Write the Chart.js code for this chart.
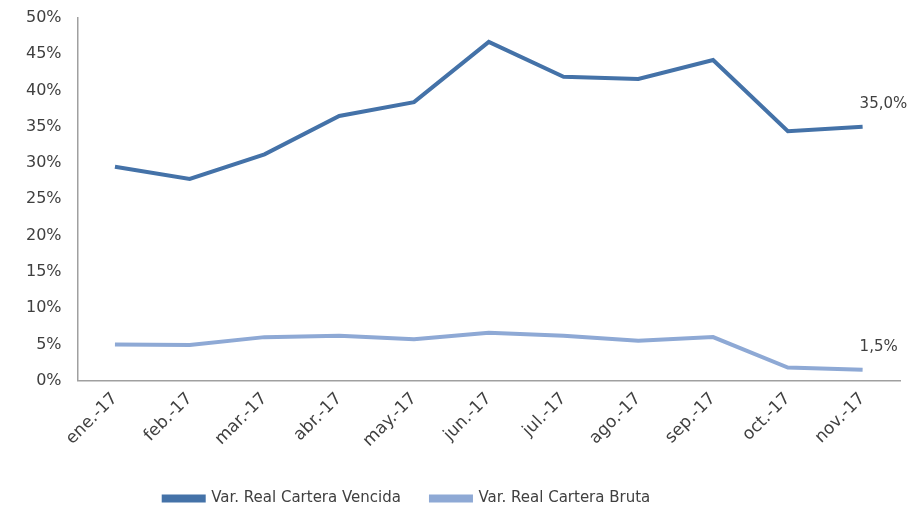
<!DOCTYPE html>
<html>
<head>
<meta charset="utf-8">
<script src="https://cdn.jsdelivr.net/npm/chart.js@4.4.1/dist/chart.umd.min.js"></script>
<style>
  html, body { margin: 0; padding: 0; background: #fff; }
  #wrap { width: 916px; height: 514px; }
</style>
</head>
<body>
<div id="wrap"><canvas id="myChart" width="916" height="514"></canvas></div>
<script>
const meses = ["ene.-17", "feb.-17", "mar.-17", "abr.-17", "may.-17", "jun.-17", "jul.-17", "ago.-17", "sep.-17", "oct.-17", "nov.-17"]
const carteraVencida = [29.5, 27.8, 31.2, 36.5, 38.4, 46.7, 41.9, 41.6, 44.2, 34.4, 35.0]
const carteraBruta = [5.0, 4.9, 6.0, 6.2, 5.7, 6.6, 6.2, 5.5, 6.0, 1.8, 1.5]
const nombresSeries = ["Var. Real Cartera Vencida", "Var. Real Cartera Bruta"]

const azulOscuro = "#4472a8"
const azulClaro = "#8ea9d5"
const gris = "#404040"

// etiqueta solo en el último punto de cada serie
const ultimaEtiqueta = {
    id: "ultimaEtiqueta",
    afterDatasetsDraw(chart) {
        const ctx = chart.ctx
        ctx.save()
        ctx.font = "15px 'DejaVu Sans'"
        ctx.fillStyle = gris
        ctx.textAlign = "left"
        ctx.textBaseline = "middle"
        chart.data.datasets.forEach((ds, i) => {
            const meta = chart.getDatasetMeta(i)
            const p = meta.data[meta.data.length - 1]
            const v = ds.data[ds.data.length - 1]
            const txt = v.toFixed(1).replace(".", ",") + "%"
            ctx.fillText(txt, p.x - 3, p.y - 23)
        })
        ctx.restore()
    }
}

// la leyenda del original esta corrida a la izquierda
const moverLeyenda = {
    id: "moverLeyenda",
    beforeDraw(chart) {
        if (!chart.legend._movida) {
            chart.legend.left -= 48
            chart.legend.right -= 48
            chart.legend.top += 2
            chart.legend.bottom += 2
            chart.legend._movida = true
        }
    }
}

const data = {
    labels: meses,
    datasets: [
        {
            label: nombresSeries[0],
            data: carteraVencida,
            borderColor: azulOscuro,
            backgroundColor: azulOscuro,
            borderWidth: 4,
            pointRadius: 0,
            tension: 0
        },
        {
            label: nombresSeries[1],
            data: carteraBruta,
            borderColor: azulClaro,
            backgroundColor: azulClaro,
            borderWidth: 4,
            pointRadius: 0,
            tension: 0
        }
    ]
}

const config = {
    type: "line",
    data: data,
    plugins: [ultimaEtiqueta, moverLeyenda],
    options: {
        responsive: false,
        animation: false,
        layout: { padding: { top: 18, right: 16, left: 10, bottom: 0 } },
        scales: {
            x: {
                offset: true,
                grid: { display: false, drawTicks: false },
                border: { display: true, color: "#a0a0a0", width: 1.5 },
                ticks: {
                    color: gris,
                    font: { family: "DejaVu Sans", size: 17 },
                    maxRotation: 45,
                    minRotation: 45,
                    padding: 8
                }
            },
            y: {
                min: 0,
                max: 50,
                grid: { display: false, drawTicks: false },
                border: { display: true, color: "#a0a0a0", width: 1.5 },
                afterFit: s => { s.paddingTop = 0 },
                ticks: {
                    stepSize: 5,
                    color: gris,
                    font: { family: "DejaVu Sans", size: 16 },
                    padding: 16,
                    callback: v => v + "%"
                }
            }
        },
        plugins: {
            legend: {
                position: "bottom",
                labels: {
                    color: gris,
                    font: { family: "DejaVu Sans", size: 15 },
                    boxWidth: 40,
                    boxHeight: 4,
                    padding: 30
                }
            },
            tooltip: { enabled: false }
        }
    }
}

new Chart(document.querySelector("#myChart"), config)
</script>
</body>
</html>
